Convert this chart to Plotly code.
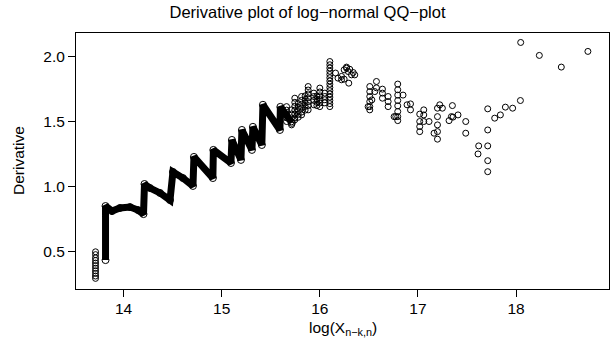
import plotly.graph_objects as go

# ---- data ----
# dense band (heavily overlapping circles) : path vertices
band_x = [13.816, 13.816, 13.882, 13.963, 14.065, 14.147, 14.203, 14.213, 14.269, 14.371,
          14.473, 14.503, 14.605, 14.707, 14.717, 14.910, 14.915, 15.094, 15.104, 15.196,
          15.206, 15.308, 15.318, 15.409, 15.420, 15.593, 15.598, 15.715]
band_y = [0.433, 0.850, 0.811, 0.835, 0.842, 0.819, 0.788, 1.020, 0.989, 0.951,
          0.896, 1.113, 1.066, 1.005, 1.229, 1.066, 1.283, 1.182, 1.360, 1.206,
          1.437, 1.283, 1.461, 1.321, 1.631, 1.437, 1.615, 1.492]

# individual circles (columns and scattered points)
pts_x = ([13.714] * 11
         + [15.661] * 5 + [15.712] * 5 + [15.745] * 7 + [15.780] * 5 + [15.814] * 6 + [15.850] * 5
         + [15.881] * 7 + [15.939] * 4 + [15.970] * 4 + [16.000] * 6 + [16.051] * 4 + [16.102] * 15
         + [16.160, 16.221, 16.248, 16.272, 16.289, 16.323, 16.356, 16.295, 16.221, 16.248, 16.272,
            16.185, 16.305, 16.340]
         + [16.509] * 6
         + [16.492, 16.577, 16.577, 16.560, 16.530, 16.638, 16.638, 16.638, 16.696, 16.696, 16.696, 16.757]
         + [16.794] * 8
         + [16.774, 16.848, 16.889, 16.924, 16.924]
         + [17.018] * 4
         + [17.059, 17.059, 17.059, 17.113, 17.199, 17.222, 17.249, 17.199, 17.199, 17.164, 17.199, 17.199,
            17.351, 17.317, 17.341, 17.357, 17.408, 17.487, 17.487,
            17.711, 17.782, 17.840, 17.891, 17.965, 18.044, 17.711, 17.619, 17.711, 17.612, 17.711, 17.711,
            18.047, 18.237, 18.732, 18.461])
pts_y = ([0.497, 0.475, 0.450, 0.430, 0.410, 0.390, 0.370, 0.350, 0.330, 0.310, 0.292]
         + [1.617, 1.590, 1.560, 1.530, 1.502]
         + [1.592, 1.560, 1.530, 1.500, 1.476]
         + [1.682, 1.650, 1.620, 1.590, 1.560, 1.530, 1.515]
         + [1.640, 1.612, 1.585, 1.558, 1.535]
         + [1.695, 1.665, 1.635, 1.605, 1.575, 1.553]
         + [1.700, 1.672, 1.645, 1.618, 1.590]
         + [1.772, 1.745, 1.715, 1.685, 1.655, 1.625, 1.592]
         + [1.721, 1.695, 1.665, 1.631]
         + [1.700, 1.675, 1.650, 1.625]
         + [1.760, 1.730, 1.700, 1.670, 1.645, 1.617]
         + [1.721, 1.695, 1.670, 1.646]
         + [1.965, 1.940, 1.915, 1.890, 1.865, 1.840, 1.815, 1.790, 1.765, 1.740, 1.715, 1.690, 1.665, 1.640, 1.617]
         + [1.876, 1.850, 1.901, 1.914, 1.888, 1.862, 1.862, 1.798, 1.824, 1.829, 1.922,
            1.837, 1.905, 1.880]
         + [1.772, 1.733, 1.695, 1.656, 1.617, 1.592]
         + [1.617, 1.811, 1.762, 1.733, 1.669, 1.752, 1.721, 1.682, 1.695, 1.656, 1.617, 1.540]
         + [1.791, 1.747, 1.706, 1.664, 1.623, 1.579, 1.540, 1.509]
         + [1.540, 1.706, 1.631, 1.638, 1.592]
         + [1.559, 1.502, 1.463, 1.424]
         + [1.592, 1.553, 1.502, 1.502, 1.605, 1.631, 1.605, 1.540, 1.476, 1.412, 1.424, 1.366,
            1.625, 1.509, 1.540, 1.536, 1.553, 1.502, 1.412,
            1.600, 1.528, 1.553, 1.613, 1.605, 1.664, 1.437, 1.314, 1.314, 1.252, 1.200, 1.115,
            2.112, 2.012, 2.043, 1.922])

x_ticks = [14, 15, 16, 17, 18]
y_ticks = [0.5, 1.0, 1.5, 2.0]
y_tick_text = ["0.5", "1.0", "1.5", "2.0"]

FONT = "Liberation Sans, Arial, Helvetica, sans-serif"
LBL = 15.5

fig = go.Figure()
fig.add_trace(go.Scatter(
    x=band_x, y=band_y, mode="lines+markers",
    line=dict(color="black", width=7),
    marker=dict(symbol="circle-open", size=7, color="black", line=dict(width=1)),
    hoverinfo="x+y", showlegend=False))
fig.add_trace(go.Scatter(
    x=pts_x, y=pts_y, mode="markers",
    marker=dict(symbol="circle-open", size=6, color="black", line=dict(width=1, color="black")),
    showlegend=False))

fig.update_layout(
    width=615, height=355,
    margin=dict(l=76, r=6, t=33, b=66, autoexpand=False),
    paper_bgcolor="white", plot_bgcolor="white",
    font=dict(family=FONT, size=LBL, color="black"),
    title=dict(text="Derivative plot of log\u2212normal QQ\u2212plot",
               x=0.5, xanchor="center",
               y=1 - 12 / 355, yanchor="middle", yref="container",
               font=dict(family=FONT, size=16.5, color="black")),
    xaxis=dict(range=[13.515, 18.947], tickvals=x_ticks, ticks="outside", ticklen=7,
               tickcolor="black", tickwidth=1, showgrid=False, zeroline=False,
               showline=True, mirror=True, linecolor="black", linewidth=1,
               ticklabelstandoff=-2,
               tickfont=dict(family=FONT, size=LBL)),
    yaxis=dict(range=[0.21, 2.185], tickvals=y_ticks, ticktext=y_tick_text, ticks="outside",
               ticklen=7, tickcolor="black", tickwidth=1, showgrid=False, zeroline=False,
               showline=True, mirror=True, linecolor="black", linewidth=1,
               tickfont=dict(family=FONT, size=LBL)),
    annotations=[
        dict(text="log(X<sub>n\u2212k,n</sub>)", xref="paper", yref="paper",
             x=0.5, y=(355 - 66 - 328) / (355 - 33 - 66), xanchor="center", yanchor="middle",
             showarrow=False, font=dict(family=FONT, size=LBL)),
        dict(text="Derivative", xref="paper", yref="paper", textangle=-90,
             x=(18 - 76) / (615 - 76 - 6), y=0.5, xanchor="center", yanchor="middle",
             showarrow=False, font=dict(family=FONT, size=LBL)),
    ],
)

fig.write_html("out.html")
